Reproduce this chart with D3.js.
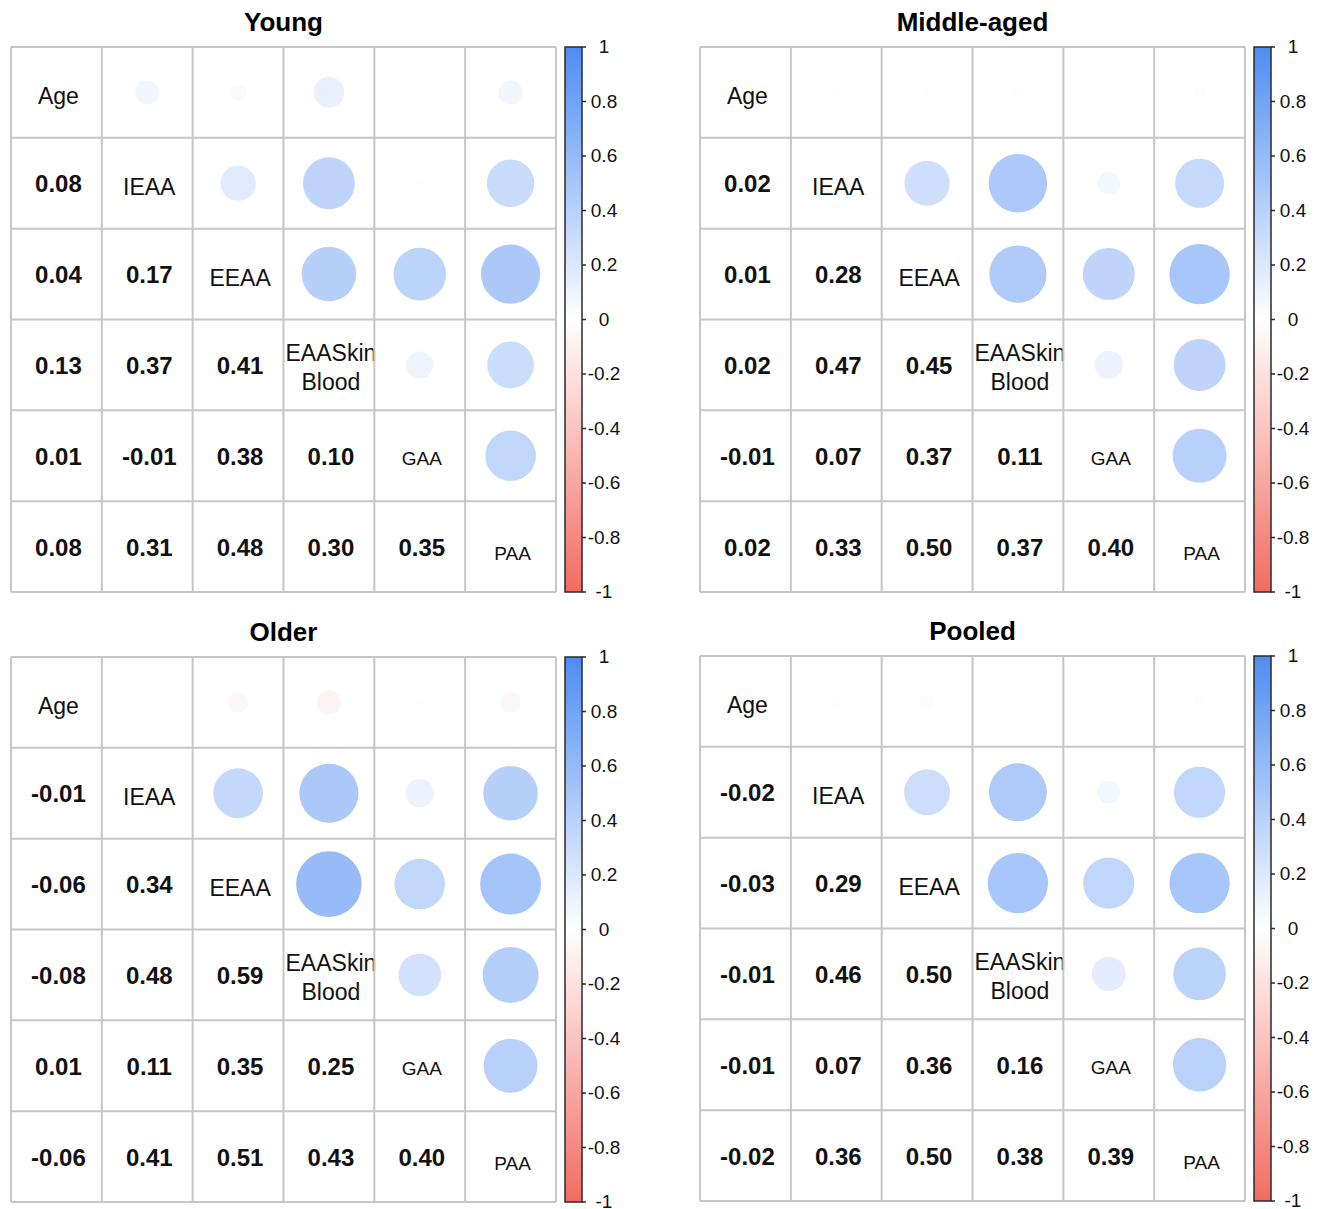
<!DOCTYPE html>
<html>
<head>
<meta charset="utf-8">
<script src="https://cdn.jsdelivr.net/npm/d3@7"></script>
<style>
  body { margin: 0; background: #fff; }
  svg { display: block; font-family: "Liberation Sans", Arial, Helvetica, sans-serif; }
</style>
</head>
<body>
<script>
// VARIABLES (diagonal labels, multi-line ones split by "|")
const vars = ["Age", "IEAA", "EEAA", "EAASkin|Blood", "GAA", "PAA"];
const groups = ["Young", "Middle-aged", "Older", "Pooled"];

// LOWER TRIANGLE CORRELATIONS, row by row
const young = [
  [0.08],
  [0.04, 0.17],
  [0.13, 0.37, 0.41],
  [0.01, -0.01, 0.38, 0.10],
  [0.08, 0.31, 0.48, 0.30, 0.35]
];
const middleAged = [
  [0.02],
  [0.01, 0.28],
  [0.02, 0.47, 0.45],
  [-0.01, 0.07, 0.37, 0.11],
  [0.02, 0.33, 0.50, 0.37, 0.40]
];
const older = [
  [-0.01],
  [-0.06, 0.34],
  [-0.08, 0.48, 0.59],
  [0.01, 0.11, 0.35, 0.25],
  [-0.06, 0.41, 0.51, 0.43, 0.40]
];
const pooled = [
  [-0.02],
  [-0.03, 0.29],
  [-0.01, 0.46, 0.50],
  [-0.01, 0.07, 0.36, 0.16],
  [-0.02, 0.36, 0.50, 0.38, 0.39]
];
const groupData = [young, middleAged, older, pooled];

// COLOURBAR TICKS
const barTicks = [1, 0.8, 0.6, 0.4, 0.2, 0, -0.2, -0.4, -0.6, -0.8, -1];

//USEFUL VARIABLES
const svgwidth = 1324;
const svgheight = 1209;
const gridSize = 545;
const cell = gridSize / vars.length;
const panelPos = [
  {x: 11, y: 47},
  {x: 700, y: 47},
  {x: 11, y: 657},
  {x: 700, y: 656}
];

// plain hyphen for minus, like the original
const hy = s => s.replace(/\u2212/g, "-");
const fmt2 = d => hy(d3.format(".2f")(d));
const fmtTick = d => hy(d3.format("")(d));

const color = d3.scaleLinear()
  .domain([-1, 0, 1])
  .range(["#f26b62", "#ffffff", "#4f8cf2"]);

const radius = d3.scaleSqrt()
  .domain([0, 1])
  .range([0, cell * 0.47]);

const svg = d3.select("body").append("svg")
  .attr("width", svgwidth)
  .attr("height", svgheight);

svg.append("rect").attr("width", svgwidth).attr("height", svgheight).attr("fill", "#fff");

// GRADIENT FOR COLOURBAR
const grad = svg.append("defs").append("linearGradient")
  .attr("id", "cbar")
  .attr("x1", 0).attr("y1", 0).attr("x2", 0).attr("y2", 1);
d3.range(0, 1.0001, 0.05).forEach(t => {
  grad.append("stop")
    .attr("offset", t)
    .attr("stop-color", color(1 - 2 * t));
});

// full symmetric matrix from lower triangle
function fullMatrix(lower) {
  const n = vars.length;
  const m = d3.range(n).map(() => d3.range(n).map(() => 1));
  lower.forEach((row, k) => {
    const i = k + 1;
    row.forEach((v, j) => { m[i][j] = v; m[j][i] = v; });
  });
  return m;
}

groups.forEach((name, gi) => {
  const pos = panelPos[gi];
  const m = fullMatrix(groupData[gi]);
  const g = svg.append("g").attr("transform", `translate(${pos.x},${pos.y})`);

  const band = d3.scaleBand()
    .domain(d3.range(vars.length))
    .range([0, gridSize]);

  const cells = [];
  m.forEach((row, i) => row.forEach((v, j) => cells.push({i, j, v})));

  // TITLE
  g.append("text")
    .attr("x", gridSize / 2)
    .attr("y", -16)
    .attr("text-anchor", "middle")
    .attr("font-size", 26)
    .attr("font-weight", "bold")
    .text(name);

  // CIRCLES (upper triangle)
  g.selectAll("circle.corr")
    .data(cells.filter(d => d.j > d.i))
    .join("circle")
    .attr("class", "corr")
    .attr("cx", d => band(d.j) + cell / 2)
    .attr("cy", d => band(d.i) + cell / 2)
    .attr("r", d => radius(Math.abs(d.v)))
    .attr("fill", d => color(d.v));

  // NUMBERS (lower triangle)
  g.selectAll("text.num")
    .data(cells.filter(d => d.j < d.i))
    .join("text")
    .attr("class", "num")
    .attr("x", d => band(d.j) + cell / 2 + 2)
    .attr("y", d => band(d.i) + cell / 2 + 9)
    .attr("text-anchor", "middle")
    .attr("font-size", 24)
    .attr("font-weight", "bold")
    .attr("fill", "#111")
    .text(d => fmt2(d.v));

  // DIAGONAL LABELS
  vars.forEach((lab, i) => {
    const lines = lab.split("|");
    const small = lab.length <= 3 && lab !== "Age";
    const t = g.append("text")
      .attr("text-anchor", "middle")
      .attr("font-size", small ? 19 : 23)
      .attr("fill", "#111");
    const cx = band(i) + cell / 2 + 2;
    const cy = band(i) + cell / 2;
    if (lines.length === 1) {
      t.attr("x", cx).attr("y", cy + (small ? 9 : 12) + (i === vars.length - 1 ? 4 : 0)).text(lab);
    } else {
      lines.forEach((ln, k) => {
        t.append("tspan")
          .attr("x", cx)
          .attr("y", cy - 4 + k * 29)
          .text(ln);
      });
    }
  });

  // GRID
  g.selectAll("line.h")
    .data(d3.range(vars.length + 1))
    .join("line")
    .attr("x1", 0).attr("x2", gridSize)
    .attr("y1", d => d * cell).attr("y2", d => d * cell)
    .attr("stroke", "#c6c6c6").attr("stroke-width", 2);
  g.selectAll("line.v")
    .data(d3.range(vars.length + 1))
    .join("line")
    .attr("y1", 0).attr("y2", gridSize)
    .attr("x1", d => d * cell).attr("x2", d => d * cell)
    .attr("stroke", "#c6c6c6").attr("stroke-width", 2);

  // COLOURBAR
  const bx = gridSize + 9;
  const bw = 17;
  const by = d3.scaleLinear().domain([1, -1]).range([0, gridSize]);
  const cb = g.append("g").attr("transform", `translate(${bx},0)`);
  cb.append("rect")
    .attr("width", bw).attr("height", gridSize)
    .attr("fill", "url(#cbar)")
    .attr("stroke", "#2a2a2a").attr("stroke-width", 1.5);
  cb.selectAll("line.tick")
    .data(barTicks)
    .join("line")
    .attr("x1", bw).attr("x2", bw + 4)
    .attr("y1", d => by(d)).attr("y2", d => by(d))
    .attr("stroke", "#2a2a2a").attr("stroke-width", 1.5);
  cb.selectAll("text.tick")
    .data(barTicks)
    .join("text")
    .attr("x", bw + 22)
    .attr("y", d => by(d) + 6)
    .attr("text-anchor", "middle")
    .attr("font-size", 19)
    .attr("fill", "#111")
    .text(d => fmtTick(d));
});
</script>
</body>
</html>
